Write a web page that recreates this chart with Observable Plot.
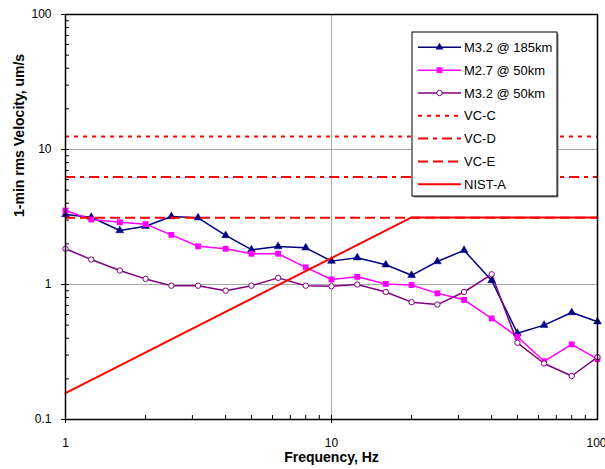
<!DOCTYPE html>
<html>
<head>
<meta charset="utf-8">
<script src="https://cdn.jsdelivr.net/npm/d3@7"></script>
<script src="https://cdn.jsdelivr.net/npm/@observablehq/plot@0.6"></script>
<style>
  body { margin: 0; background: #fff; }
  #chart { position: relative; width: 605px; height: 469px; }
</style>
</head>
<body>
<div id="chart"></div>
<script>
// ---- data ----
const freqs = [1, 1.25, 1.6, 2, 2.5, 3.15, 4, 5, 6.3, 8, 10, 12.5, 16, 20, 25, 31.5, 40, 50, 63, 80, 100];
const m32at185km = [3.3, 3.15, 2.51, 2.70, 3.19, 3.12, 2.31, 1.81, 1.91, 1.87, 1.49, 1.58, 1.40, 1.17, 1.48, 1.79, 1.07, 0.436, 0.50, 0.62, 0.53];
const m27at50km = [3.53, 3.03, 2.89, 2.80, 2.33, 1.92, 1.84, 1.69, 1.69, 1.34, 1.09, 1.14, 1.01, 0.99, 0.86, 0.77, 0.56, 0.41, 0.27, 0.36, 0.28];
const m32at50km = [1.84, 1.53, 1.27, 1.10, 0.98, 0.98, 0.90, 0.98, 1.12, 0.98, 0.97, 1.00, 0.88, 0.74, 0.71, 0.88, 1.19, 0.37, 0.26, 0.21, 0.29];
const seriesNames = ["M3.2 @ 185km", "M2.7 @ 50km", "M3.2 @ 50km"];
const vcNames = ["VC-C", "VC-D", "VC-E"];
const vcValues = [12.5, 6.25, 3.125];
const nistName = "NIST-A";
const nistFreqs = [1, 20, 100];
const nistValues = [0.157, 3.14, 3.14];
const yTickValues = [0.1, 1, 10, 100];
const yTickLabels = ["0.1", "1", "10", "100"];
const xTickValues = [1, 10, 100];
const xTickLabels = ["1", "10", "100"];
const yMinorTicks = [0.2, 0.3, 0.4, 0.5, 0.6, 0.7, 0.8, 0.9, 1, 2, 3, 4, 5, 6, 7, 8, 9, 10, 20, 30, 40, 50, 60, 70, 80, 90];
const xMinorTicks = [2, 3, 4, 5, 6, 7, 8, 9, 10, 20, 30, 40, 50, 60, 70, 80, 90];
const xTitle = "Frequency, Hz";
const yTitle = "1-min rms Velocity, um/s";

// ---- styles ----
const seriesColors = ["#000080", "#FF00FF", "#800080"];
const red = "#FF0000";
const vcDash = ["4,5", "10,5,4,5", "10,5"];
const FONT = "'Liberation Sans', Arial, Helvetica, sans-serif";

const seriesValues = [m32at185km, m27at50km, m32at50km];
const rows = seriesValues.map((vals, s) => freqs.map((f, i) => ({f, v: vals[i], s})));
const nist = nistFreqs.map((f, i) => ({f, v: nistValues[i]}));
const yLabelOf = new Map(yTickValues.map((v, i) => [v, yTickLabels[i]]));
const xLabelOf = new Map(xTickValues.map((v, i) => [v, xTickLabels[i]]));

const marks = [
  Plot.ruleY([1, 10], {stroke: "#a8a8a8", strokeWidth: 1}),
  Plot.ruleX([10], {stroke: "#a8a8a8", strokeWidth: 1}),
  // series lines
  ...rows.map((r, s) => Plot.line(r, {x: "f", y: "v", stroke: seriesColors[s], strokeWidth: 1.5})),
  // markers
  Plot.dot(rows[0], {x: "f", y: "v", symbol: "triangle", r: 2.9, fill: seriesColors[0], stroke: seriesColors[0], strokeWidth: 0.5}),
  Plot.dot(rows[1], {x: "f", y: "v", symbol: "square", r: 3.3, fill: seriesColors[1], stroke: "none"}),
  Plot.dot(rows[2], {x: "f", y: "v", symbol: "circle", r: 2.7, fill: "white", stroke: seriesColors[2], strokeWidth: 1}),
  // criteria
  ...vcValues.map((v, i) => Plot.ruleY([v], {stroke: red, strokeWidth: 2, strokeDasharray: vcDash[i]})),
  Plot.line(nist, {x: "f", y: "v", stroke: red, strokeWidth: 2}),
  // axes
  Plot.axisY(yTickValues, {anchor: "left", tickSize: 4, tickPadding: 10, tickFormat: d => yLabelOf.get(d), label: null, fontSize: 12}),
  Plot.axisY(yMinorTicks, {anchor: "left", tickSize: 4, dx: 4, tickFormat: () => "", label: null}),
  Plot.axisX(xTickValues.slice(0, 2), {anchor: "bottom", tickSize: 4, tickPadding: 15, tickFormat: d => xLabelOf.get(d), label: null, fontSize: 12}),
  Plot.axisX(xTickValues.slice(2), {anchor: "bottom", tickSize: 4, tickPadding: 15, tickFormat: d => xLabelOf.get(d), label: null, fontSize: 12, textAnchor: "end", dx: 9}),
  Plot.axisX(xMinorTicks, {anchor: "bottom", tickSize: 4, dy: -4, tickFormat: () => "", label: null}),
  Plot.frame({stroke: "#000", strokeWidth: 1.5}),
  Plot.text([yTitle], {text: d => d, frameAnchor: "left", dx: -46, rotate: -90, lineAnchor: "middle", fontWeight: "bold", fontSize: 14}),
  Plot.text([xTitle], {text: d => d, frameAnchor: "bottom", dy: 38, lineAnchor: "middle", fontWeight: "bold", fontSize: 14})
];

const chart = Plot.plot({
  width: 605,
  height: 469,
  marginLeft: 65,
  marginRight: 8,
  marginTop: 14,
  marginBottom: 50,
  x: {type: "log", domain: [1, 100], label: null},
  y: {type: "log", domain: [0.1, 100], label: null},
  style: {fontFamily: FONT, fontSize: "12px", color: "#000", background: "#fff"},
  marks
});
document.getElementById("chart").appendChild(chart);

// ---- legend ----
const legendNames = [...seriesNames, ...vcNames, nistName];
const legendItems = legendNames.map((name, i) => {
  if (i < 3) return {name, color: seriesColors[i], dash: null, sym: ["triangle", "square", "circle"][i], w: 1.5};
  if (i < 6) return {name, color: red, dash: vcDash[i - 3], sym: null, w: 2};
  return {name, color: red, dash: null, sym: null, w: 2};
});
const svg = d3.select(chart);
const lg = svg.append("g").attr("font-family", FONT).attr("font-size", 13).attr("text-anchor", "start");
const bx = 412, by = 32, bw = 145, bh = 164;
lg.append("rect").attr("x", bx + 1.5).attr("y", by + 1.5).attr("width", bw).attr("height", bh).attr("fill", "#808080");
lg.append("rect").attr("x", bx).attr("y", by).attr("width", bw).attr("height", bh).attr("fill", "#fff").attr("stroke", "#000").attr("stroke-width", 1);
const symSize = {triangle: Math.PI * 2.9 * 2.9, square: Math.PI * 3.3 * 3.3, circle: Math.PI * 2.7 * 2.7};
const symType = {triangle: d3.symbolTriangle, square: d3.symbolSquare, circle: d3.symbolCircle};
legendItems.forEach((it, i) => {
  const cy = 47.3 + i * 22.83;
  lg.append("line").attr("x1", 418).attr("x2", 461).attr("y1", cy).attr("y2", cy)
    .attr("stroke", it.color).attr("stroke-width", it.w).attr("stroke-dasharray", it.dash);
  if (it.sym) {
    const p = lg.append("path").attr("d", d3.symbol(symType[it.sym], symSize[it.sym])())
      .attr("transform", `translate(439.5,${cy})`);
    if (it.sym === "circle") p.attr("fill", "#fff").attr("stroke", it.color).attr("stroke-width", 1);
    else p.attr("fill", it.color);
  }
  lg.append("text").attr("x", 464).attr("y", cy + 4.6).attr("fill", "#000").attr("text-anchor", "start").text(it.name);
});
</script>
</body>
</html>
